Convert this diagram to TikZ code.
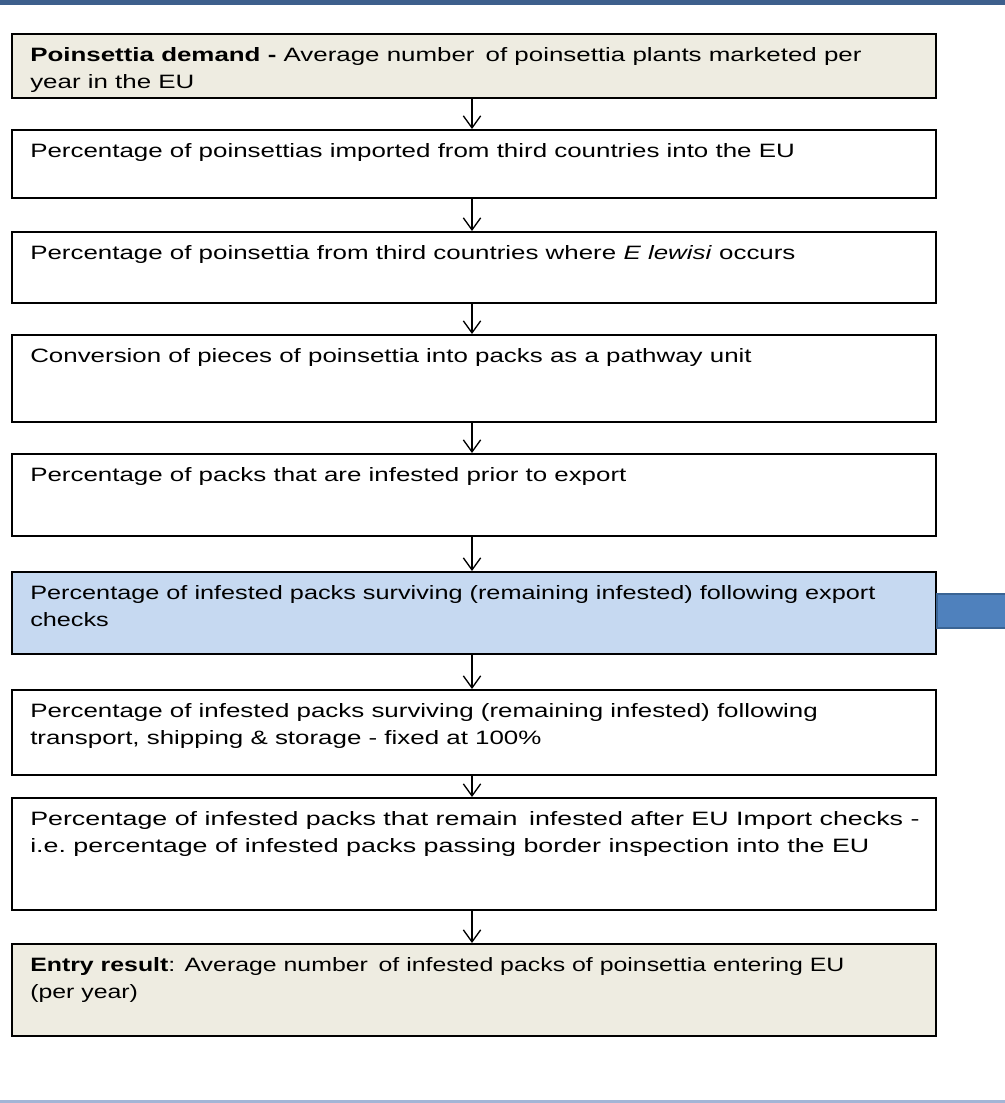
\documentclass[tikz,border=0pt]{standalone}
\usepackage{fontspec}
\setmainfont[FakeStretch=1.34]{Liberation Sans}
\usetikzlibrary{arrows.meta,calc}

\definecolor{boxbeige}{HTML}{EEECE1}
\definecolor{boxblue}{HTML}{C6D9F1}
\definecolor{barblue}{HTML}{4F81BD}
\definecolor{barline}{HTML}{3A6494}
\definecolor{rulelight}{HTML}{A3B5D6}
\definecolor{ruledark}{HTML}{3D5F8C}

\begin{document}
\begin{tikzpicture}[x=0.75pt,y=-0.75pt,
  stepbox/.style={draw=black, line width=1.5pt, fill=white, rectangle,
    inner sep=0pt, minimum width=693pt, anchor=north west},
  beigebox/.style={stepbox, fill=boxbeige},
  bluebox/.style={stepbox, fill=boxblue},
  boxtext/.style={anchor=north west, inner sep=0pt, align=left,
    font=\fontsize{14.5pt}{20.25pt}\selectfont},
  widen/.style={transform shape, xscale=#1},
  flow/.style={line width=1pt, -{Straight Barb[length=9pt,width=13pt,line width=1pt]}},
  bar/.style={fill=barblue, draw=barline, line width=1.5pt}
]
\newcommand{\fl}{\rule{0pt}{15pt}}

% page area and the rules at top and bottom
\useasboundingbox (0,0) rectangle (1005,1103);
\fill[white] (0,0) rectangle (1005,1103);
\fill[ruledark] (0,0) rectangle (1005,5);
\fill[rulelight] (0,1100) rectangle (1005,1103);

% flow chart boxes
\node[beigebox, minimum height=48pt]    (b1) at (11,33)  {};
\node[stepbox,  minimum height=51pt]    (b2) at (11,129) {};
\node[stepbox,  minimum height=53.25pt] (b3) at (11,231) {};
\node[stepbox,  minimum height=65.25pt] (b4) at (11,334) {};
\node[stepbox,  minimum height=61.5pt]  (b5) at (11,453) {};
\node[bluebox,  minimum height=61.5pt]  (b6) at (11,571) {};
\node[stepbox,  minimum height=63.75pt] (b7) at (11,689) {};
\node[stepbox,  minimum height=84pt]    (b8) at (11,797) {};
\node[beigebox, minimum height=69pt]    (b9) at (11,943) {};

% box texts
\node[boxtext] (t1) at (30,41)  {\fl\textbf{Poinsettia demand -} Average number\hspace{0.2em} of poinsettia plants marketed per\\year in the EU};
\node[boxtext] (t2) at (30,137) {\fl Percentage of poinsettias imported from third countries into the EU};
\node[boxtext] (t3) at (30,239) {\fl Percentage of poinsettia from third countries where \textit{E lewisi} occurs};
\node[boxtext] (t4) at (30,342) {\fl Conversion of pieces of poinsettia into packs as a pathway unit};
\node[boxtext] (t5) at (30,461) {\fl Percentage of packs that are infested prior to export};
\node[boxtext, widen=0.975] (t6) at (30,579) {\fl Percentage of infested packs surviving (remaining infested) following export\\checks};
\node[boxtext] (t7) at (30,697) {\fl Percentage of infested packs surviving (remaining infested) following\\transport, shipping \& storage - fixed at 100\%};
\node[boxtext, widen=1.035] (t8) at (30,805) {\fl Percentage of infested packs that remain\hspace{0.2em} infested after EU Import checks -\\i.e.\ percentage of infested packs passing border inspection into the EU};
\node[boxtext, widen=0.96] (t9) at (30,951) {\fl\textbf{Entry result}: Average number\hspace{0.2em} of infested packs of poinsettia entering EU\\(per year)};

% downward connectors
\coordinate (ax) at (472,0);
\draw[flow] (b1.south -| ax) -- (b2.north -| ax);
\draw[flow] (b2.south -| ax) -- (b3.north -| ax);
\draw[flow] (b3.south -| ax) -- (b4.north -| ax);
\draw[flow] (b4.south -| ax) -- (b5.north -| ax);
\draw[flow] (b5.south -| ax) -- (b6.north -| ax);
\draw[flow] (b6.south -| ax) -- (b7.north -| ax);
\draw[flow] (b7.south -| ax) -- (b8.north -| ax);
\draw[flow] (b8.south -| ax) -- (b9.north -| ax);

% outgoing block arrow shaft from the export-check box
\begin{scope}
  \clip (0,0) rectangle (1005,1103);
  \filldraw[bar] ($(b6.east)+(0,-19)$) rectangle (1015,628);
\end{scope}
\end{tikzpicture}
\end{document}
